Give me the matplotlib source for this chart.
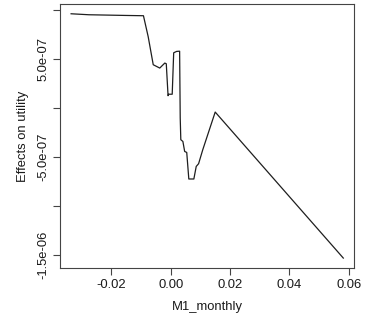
import matplotlib
matplotlib.use("Agg")
import matplotlib.pyplot as plt
import numpy as np

# Partial dependence of utility on monthly M1 growth
m1_monthly = [-0.0336, -0.0276, -0.0153, -0.0092, -0.0076, -0.0059, -0.0037,
              -0.0020, -0.0015, -0.0009, -0.0007, 0.0005, 0.0010, 0.0020,
              0.0030, 0.0032, 0.0034, 0.0041, 0.0047, 0.0054, 0.0061, 0.0078,
              0.0086, 0.0094, 0.0108, 0.0150, 0.0582]
effect = [9.62e-7, 9.52e-7, 9.45e-7, 9.42e-7, 7.28e-7, 4.42e-7, 4.08e-7,
          4.59e-7, 4.52e-7, 1.26e-7, 1.41e-7, 1.41e-7, 5.64e-7, 5.78e-7,
          5.80e-7, -0.99e-7, -3.23e-7, -3.41e-7, -4.43e-7, -4.53e-7, -7.24e-7,
          -7.24e-7, -5.96e-7, -5.68e-7, -4.26e-7, -0.41e-7, -1.531e-6]

x_ticks = [-0.02, 0.00, 0.02, 0.04, 0.06]
x_tick_labels = ["-0.02", "0.00", "0.02", "0.04", "0.06"]
y_ticks = [1e-6, 5e-7, 0.0, -5e-7, -1e-6, -1.5e-6]
y_tick_labels = ["", "5.0e-07", "", "-5.0e-07", "", "-1.5e-06"]

plt.rcParams["font.family"] = ["Liberation Sans", "DejaVu Sans"]

fig = plt.figure(figsize=(3.74, 3.2), dpi=100)
ax = fig.add_axes([0.161, 0.163, 0.786, 0.8245])

ax.plot(m1_monthly, effect, color="#1e1e1e", lw=0.9)

def padded(vals, frac=0.04):
    lo, hi = min(vals), max(vals)
    d = (hi - lo) * frac
    return lo - d, hi + d

ax.set_xlim(*padded(m1_monthly))
ax.set_ylim(*padded(effect))

ax.set_xticks(x_ticks)
ax.set_xticklabels(x_tick_labels)
ax.set_yticks(y_ticks)
ax.set_yticklabels(y_tick_labels, rotation=90, va="center")

for s in ax.spines.values():
    s.set_color("#444444")
    s.set_linewidth(0.8)

ax.tick_params(axis="both", direction="out", length=5, width=0.8,
               color="#444444", labelsize=9.4, labelcolor="#1a1a1a", pad=3)

ax.set_xlabel("M1_monthly", fontsize=9.4, color="#1a1a1a", labelpad=7)
ax.set_ylabel("Effects on utility", fontsize=9.4, color="#1a1a1a", labelpad=6)

fig.savefig("out.png", dpi=100)
